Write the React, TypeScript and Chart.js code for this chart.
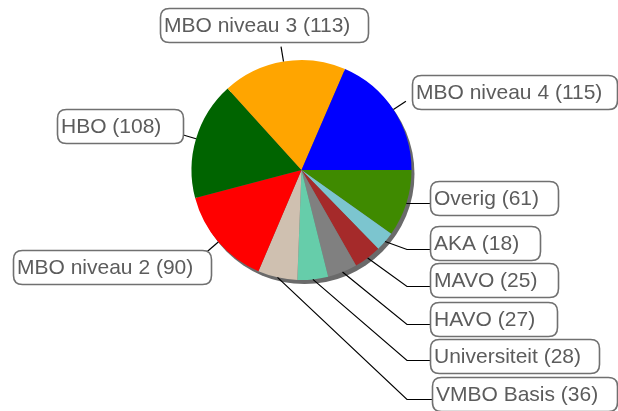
import React, { useEffect, useRef } from "react";
import { Chart, registerables } from "chart.js";

Chart.register(...registerables);

// Data, clockwise from 3 o'clock
const categories = [
  "Overig",
  "AKA",
  "MAVO",
  "HAVO",
  "Universiteit",
  "VMBO Basis",
  "MBO niveau 2",
  "HBO",
  "MBO niveau 3",
  "MBO niveau 4",
];
const counts = [61, 18, 25, 27, 28, 36, 90, 108, 113, 115];
const sliceColors = [
  "#3f8a00",
  "#7cc5cf",
  "#a52a2a",
  "#808080",
  "#66cdaa",
  "#cfc0b0",
  "#ff0000",
  "#006400",
  "#ffa500",
  "#0000ff",
];

// Label box layout (left, top, width) and connector style
const boxLeft = [430, 430, 430, 430, 430, 432, 13, 57, 160, 412];
const boxTop = [181, 226, 263, 302, 339, 377, 250, 109, 8, 75];
const boxWidth = [128, 110, 128, 127, 169, 185, 198, 126, 208, 205];
// "elbow": connector bends to x=407 at lineY then runs to the box; "radial": short radial tick
const connectorKind = [
  "elbow", "elbow", "elbow", "elbow", "elbow", "elbow",
  "radial", "radial", "radial", "radial",
];
const elbowLineY = [203, 249, 286, 324, 360, 399, 0, 0, 0, 0];

const BOX_H = 34;

const labelPlugin = {
  id: "boxLabels",
  beforeDatasetsDraw(chart: any) {
    const ctx = chart.ctx;
    const meta = chart.getDatasetMeta(0);
    const arc: any = meta.data[0];
    if (!arc) return;
    ctx.save();
    ctx.fillStyle = "#6a6a6a";
    ctx.beginPath();
    ctx.arc(arc.x + 3, arc.y + 4, arc.outerRadius, 0, Math.PI * 2);
    ctx.fill();
    ctx.restore();
  },
  afterDatasetsDraw(chart: any) {
    const ctx = chart.ctx;
    const meta = chart.getDatasetMeta(0);
    ctx.save();
    meta.data.forEach((el: any, i: number) => {
      const mid = (el.startAngle + el.endAngle) / 2;
      const r = el.outerRadius;
      const sx = el.x + Math.cos(mid) * r;
      const sy = el.y + Math.sin(mid) * r;
      ctx.strokeStyle = "#000";
      ctx.lineWidth = 1.2;
      ctx.beginPath();
      if (connectorKind[i] === "elbow") {
        ctx.moveTo(sx, sy);
        ctx.lineTo(407, elbowLineY[i] + 0.5);
        ctx.lineTo(boxLeft[i], elbowLineY[i] + 0.5);
      } else {
        ctx.moveTo(sx, sy);
        ctx.lineTo(el.x + Math.cos(mid) * (r + 15), el.y + Math.sin(mid) * (r + 15));
      }
      ctx.stroke();

      // box
      const x = boxLeft[i] + 0.5;
      const y = boxTop[i] + 0.5;
      const w = boxWidth[i];
      const h = BOX_H;
      const rad = 9;
      ctx.beginPath();
      ctx.moveTo(x + rad, y);
      ctx.lineTo(x + w - rad, y);
      ctx.quadraticCurveTo(x + w, y, x + w, y + rad);
      ctx.lineTo(x + w, y + h - rad);
      ctx.quadraticCurveTo(x + w, y + h, x + w - rad, y + h);
      ctx.lineTo(x + rad, y + h);
      ctx.quadraticCurveTo(x, y + h, x, y + h - rad);
      ctx.lineTo(x, y + rad);
      ctx.quadraticCurveTo(x, y, x + rad, y);
      ctx.closePath();
      ctx.fillStyle = "#ffffff";
      ctx.fill();
      ctx.strokeStyle = "#707070";
      ctx.lineWidth = 1.6;
      ctx.stroke();

      ctx.fillStyle = "#5c5c5c";
      ctx.font = '21px "Liberation Sans", Arial, sans-serif';
      ctx.textBaseline = "middle";
      ctx.textAlign = "left";
      ctx.fillText(`${categories[i]} (${counts[i]})`, boxLeft[i] + 4, boxTop[i] + h / 2 + 1);
    });
    ctx.restore();
  },
};

export default function App() {
  const ref = useRef<HTMLCanvasElement | null>(null);
  useEffect(() => {
    if (!ref.current) return;
    const chart = new Chart(ref.current, {
      type: "pie",
      data: {
        labels: categories,
        datasets: [
          {
            data: counts,
            backgroundColor: sliceColors,
            borderWidth: 0,
          },
        ],
      },
      options: {
        responsive: false,
        animation: false,
        rotation: 90,
        layout: { padding: { left: 191, right: 206, top: 60, bottom: 131 } },
        plugins: {
          legend: { display: false },
          tooltip: { enabled: false },
        },
      },
      plugins: [labelPlugin],
    });
    return () => chart.destroy();
  }, []);
  return (
    <div style={{ position: "fixed", left: 0, top: 0, width: 618, height: 411, background: "#fff" }}>
      <canvas ref={ref} width={618} height={411} style={{ width: 618, height: 411 }} />
    </div>
  );
}
